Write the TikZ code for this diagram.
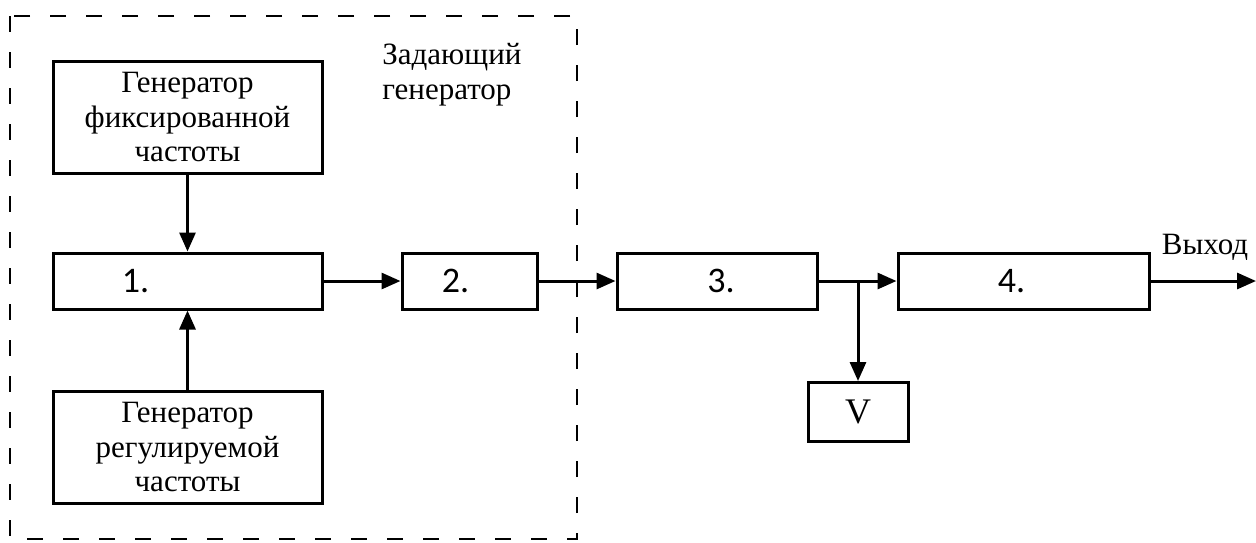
\documentclass[tikz,border=0pt]{standalone}
\usepackage{fontspec}
\setmainfont{Liberation Serif}
\newfontfamily\numfont{Carlito}
\usetikzlibrary{arrows.meta, positioning}

\tikzset{
	blok/.style={draw, line width=1.5pt, minimum height=28pt, inner sep=0pt},
	genblok/.style={blok, minimum width=134.5pt, minimum height=56pt, align=center,
		font=\fontsize{15.5}{17.2}\selectfont},
	nomer/.style={font=\numfont\fontsize{18}{18}\selectfont},
	strelka/.style={line width=1.5pt, -{Triangle[length=9.5pt,width=8pt]}}
}

\begin{document}
\begin{tikzpicture}[x=0.5pt, y=-0.5pt]
	\useasboundingbox (0,0) rectangle (1256,542);
	% Zadayushchiy generator (ramka)
	\draw[line width=0.9pt, dash pattern=on 8pt off 10pt] (10,16) rectangle (577,539);
	\node[align=left, anchor=north west, inner sep=0pt,
		font=\fontsize{15.5}{17.5}\selectfont] (zg) at (382,43) {Задающий\\генератор};
	% generatory
	\node[genblok] (gfix) at (187.5,117) {Генератор\\фиксированной\\частоты};
	\node[genblok] (greg) at (187.5,447) {Генератор\\регулируемой\\частоты};
	% bloki 1--4
	\node[blok, minimum width=134.5pt, label={[nomer, xshift=-26pt]center:1.}] (b1) at (187.5,281) {};
	\node[blok, minimum width=67.5pt, label={[nomer, xshift=-7pt]center:2.}] (b2) at (469.5,281) {};
	\node[blok, minimum width=100pt, label={[nomer, xshift=2pt]center:3.}] (b3) at (717,281) {};
	\node[blok, minimum width=125.5pt, label={[nomer, xshift=-6pt]center:4.}] (b4) at (1023.5,281) {};
	\node[blok, minimum width=50pt, minimum height=29.5pt,
		font=\fontsize{18}{18}\selectfont] (vm) at (858,412) {V};
	\coordinate (uzel) at (858,281);
	\coordinate (vyh) at (1256,281);
	\node[font=\fontsize{15.5}{16.8}\selectfont] (vyhtxt) at (1205,247) {Выход};
	% strelki
	\draw[strelka] (gfix) -- (b1);
	\draw[strelka] (greg) -- (b1);
	\draw[strelka] (b1) -- (b2);
	\draw[strelka] (b2) -- (b3);
	\draw[strelka] (b3) -- (b4);
	\draw[strelka] (uzel) -- (vm);
	\draw[strelka] (b4) -- (vyh);
\end{tikzpicture}
\end{document}
